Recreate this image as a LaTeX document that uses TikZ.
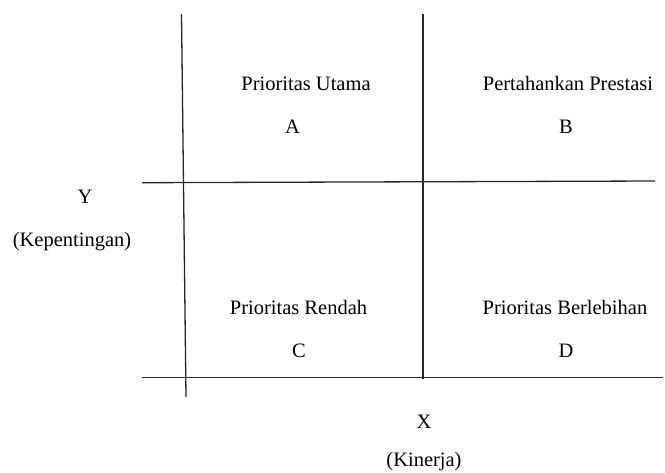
\documentclass[tikz,border=0pt]{standalone}
\usepackage{fontspec}
\setmainfont{Liberation Serif}
\begin{document}
\begin{tikzpicture}[x=1pt,y=-1pt,
  lbl/.style={inner sep=0pt,anchor=base,font=\fontsize{20.5}{24}\selectfont},
  axisline/.style={draw=black!85,line width=1.3pt}]
\useasboundingbox (0,0) rectangle (665,472);
% line end points
\coordinate (v1t) at (181.5,14);
\coordinate (v1b) at (186,397);
\coordinate (v2t) at (423,14);
\coordinate (v2b) at (423,379);
\coordinate (h1l) at (142,182.7);
\coordinate (h1r) at (655,181);
\coordinate (h2l) at (142,377.3);
\coordinate (h2r) at (663,377.3);
\draw[axisline] (v1t) -- (v1b);
\draw[axisline] (v2t) -- (v2b);
\draw[axisline] (h1l) -- (h1r);
\draw[axisline] (h2l) -- (h2r);
% labels
\node[lbl] (pu) at (306,90.5) {Prioritas Utama};
\node[lbl] (a) at (292.5,133) {A};
\node[lbl] (pp) at (568,90.5) {Pertahankan Prestasi};
\node[lbl] (b) at (566,133) {B};
\node[lbl] (pr) at (298.5,314) {Prioritas Rendah};
\node[lbl] (c) at (299,357) {C};
\node[lbl] (pb) at (565,314) {Prioritas Berlebihan};
\node[lbl] (d) at (566,357) {D};
\node[lbl] (y) at (85,203) {Y};
\node[lbl] (kep) at (72,246) {(Kepentingan)};
\node[lbl] (x) at (424,428) {X};
\node[lbl] (kin) at (424,466.5) {(Kinerja)};
\end{tikzpicture}
\end{document}
